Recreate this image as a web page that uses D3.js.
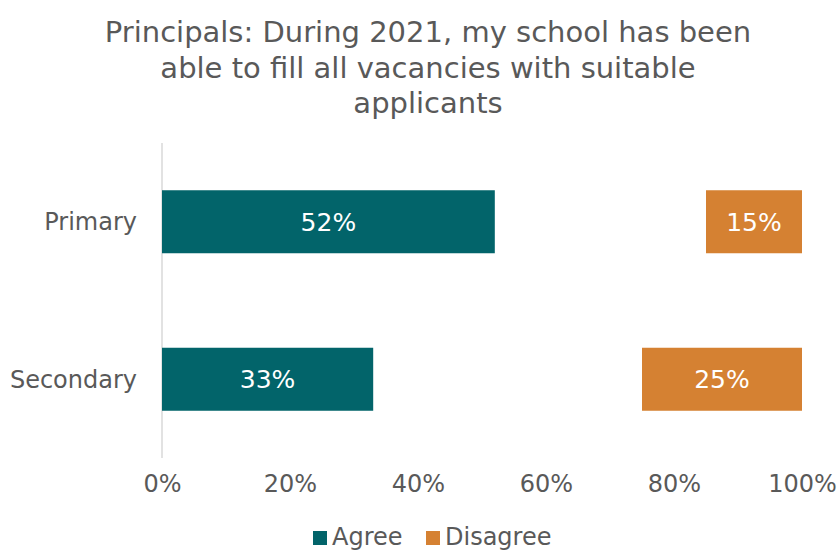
<!doctype html>
<html lang="en">
<head>
<meta charset="UTF-8">
<title>Principals vacancies</title>
<script src="https://cdn.jsdelivr.net/npm/d3@7"></script>
<style>
  body { margin: 0; background: #fff; }
  text { font-family: "DejaVu Sans", sans-serif; fill: #595959; }
</style>
</head>
<body>
<script>
// data
var categories = ["Primary", "Secondary"];
var agree = [52, 33];
var disagree = [15, 25];
var seriesNames = ["Agree", "Disagree"];
var tickValues = [0, 20, 40, 60, 80, 100];
var titleLines = ["Principals: During 2021, my school has been",
                  "able to fill all vacancies with suitable",
                  "applicants"];

var W = 840, H = 551;
var colors = { Agree: "#02646a", Disagree: "#d58132" };

var svg = d3.select("body").append("svg")
    .attr("width", W).attr("height", H);

// title
svg.append("g").selectAll("text")
    .data(titleLines)
    .enter().append("text")
    .attr("x", 428)
    .attr("y", function(d, i) { return 42 + i * 35.5; })
    .attr("text-anchor", "middle")
    .attr("font-size", 29)
    .text(function(d) { return d; });

var x = d3.scaleLinear().domain([0, 100]).range([162, 802]);
var y = d3.scaleBand().domain(categories).range([143, 458]).paddingInner(0.6).paddingOuter(0.3);

// vertical axis line
svg.append("line")
    .attr("x1", x(0)).attr("x2", x(0))
    .attr("y1", 143).attr("y2", 458)
    .attr("stroke", "#d9d9d9").attr("stroke-width", 1.5);

var rows = categories.map(function(c, i) { return { cat: c, a: agree[i], d: disagree[i] }; });

// agree bars start from the left
svg.append("g").selectAll("rect")
    .data(rows).enter().append("rect")
    .attr("x", x(0))
    .attr("y", function(d) { return y(d.cat); })
    .attr("width", function(d) { return x(d.a) - x(0); })
    .attr("height", y.bandwidth())
    .attr("fill", colors.Agree);

// disagree bars are flush with 100%
svg.append("g").selectAll("rect")
    .data(rows).enter().append("rect")
    .attr("x", function(d) { return x(100 - d.d); })
    .attr("y", function(d) { return y(d.cat); })
    .attr("width", function(d) { return x(100) - x(100 - d.d); })
    .attr("height", y.bandwidth())
    .attr("fill", colors.Disagree);

// value labels
var lbl = svg.append("g").attr("font-size", 25);
lbl.selectAll("text.a")
    .data(rows).enter().append("text")
    .attr("x", function(d) { return (x(0) + x(d.a)) / 2; })
    .attr("y", function(d) { return y(d.cat) + y.bandwidth() / 2; })
    .attr("dy", "0.36em")
    .attr("text-anchor", "middle")
    .style("fill", "#fff")
    .text(function(d) { return d.a + "%"; });
lbl.selectAll("text.d")
    .data(rows).enter().append("text")
    .attr("x", function(d) { return (x(100 - d.d) + x(100)) / 2; })
    .attr("y", function(d) { return y(d.cat) + y.bandwidth() / 2; })
    .attr("dy", "0.36em")
    .attr("text-anchor", "middle")
    .style("fill", "#fff")
    .text(function(d) { return d.d + "%"; });

// category labels
svg.append("g").selectAll("text")
    .data(categories).enter().append("text")
    .attr("x", 137)
    .attr("y", function(d) { return y(d) + y.bandwidth() / 2; })
    .attr("dy", "0.36em")
    .attr("text-anchor", "end")
    .attr("font-size", 24)
    .text(function(d) { return d; });

// x axis ticks
var xAxis = d3.axisBottom(x).tickValues(tickValues)
    .tickFormat(function(d) { return d + "%"; })
    .tickSize(0).tickPadding(0);
var gx = svg.append("g").attr("transform", "translate(0,475)").call(xAxis);
gx.select(".domain").remove();
gx.selectAll("text").attr("font-size", 24).attr("font-family", null).attr("dy", "0.71em");

// legend (nudged up a little so the descenders stay on the page)
var leg = svg.append("g").attr("font-size", 24);
var legX = [313, 426];
seriesNames.forEach(function(s, i) {
  leg.append("rect").attr("x", legX[i]).attr("y", 531).attr("width", 14).attr("height", 14)
      .attr("fill", colors[s]);
  leg.append("text").attr("x", legX[i] + 19).attr("y", 536).attr("dy", "0.36em").text(s);
});
</script>
</body>
</html>
